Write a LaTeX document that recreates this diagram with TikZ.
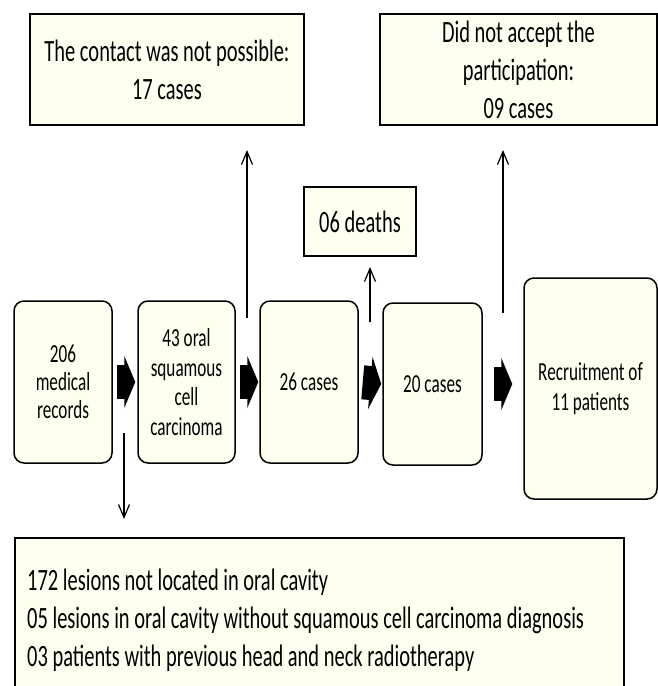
\documentclass[tikz,border=0pt]{standalone}
\usepackage{fontspec}
\setmainfont{Carlito}[FakeStretch=0.66]
\usetikzlibrary{arrows.meta,calc}
\definecolor{cream}{RGB}{255,255,240}
\begin{document}
\begin{tikzpicture}[x=1pt,y=-1pt,
  flowbox/.style={draw=black, line width=1.5pt, fill=cream, rounded corners=10pt, align=center, inner sep=0pt, font=\fontsize{26}{28}\selectfont},
  notebox/.style={draw=black, line width=1.5pt, fill=cream, align=center, inner sep=0pt, font=\fontsize{31}{38}\selectfont},
  fatarrow/.style={line width=34pt, -{Triangle[length=11pt,width=52pt]}},
  thinarrow/.style={line width=1.2pt, -{Straight Barb[length=13pt,width=11pt]}}]
\useasboundingbox (0,0) rectangle (658,686);
\clip (0,0) rectangle (658,686);
% exclusion notes
\node[notebox, minimum width=274pt, minimum height=111pt] (nocontact) at (167,69.5) {The contact was not possible:\\17 cases};
\node[notebox, minimum width=277pt, minimum height=111pt] (refused) at (518.5,69.5) {Did not accept the\\participation:\\09 cases};
\node[notebox, minimum width=112pt, minimum height=69pt] (deaths) at (360,221.5) {06 deaths};
% main flow
\node[flowbox, minimum width=98pt, minimum height=162pt] (b1) at (63,382) {206\\medical\\records};
\node[flowbox, minimum width=97pt, minimum height=162pt, font=\fontsize{26}{29.5}\selectfont] (b2) at (186.5,382) {43 oral\\squamous\\cell\\carcinoma};
\node[flowbox, minimum width=98pt, minimum height=162pt] (b3) at (309,382) {26 cases};
\node[flowbox, minimum width=99pt, minimum height=162pt] (b4) at (432.5,384) {20 cases};
\node[flowbox, minimum width=133pt, minimum height=221pt, font=\fontsize{26}{30}\selectfont] (b5) at (590.5,388.5) {Recruitment of\\11 patients};
% bottom exclusion box
\node[draw=black, line width=1.5pt, fill=cream, minimum width=609pt, minimum height=162pt, inner sep=0pt] (excl) at (319.5,619) {};
\node[anchor=west, align=left, inner sep=0pt, font=\fontsize{31}{38}\selectfont] (excltext) at (27,620) {172 lesions not located in oral cavity\\05 lesions in oral cavity without squamous cell carcinoma diagnosis\\03 patients with previous head and neck radiotherapy};
% fat arrows
\draw[fatarrow, shorten <=4pt, shorten >=2pt] (b1.east) -- (b2.west);
\draw[fatarrow, shorten <=4pt, shorten >=1pt] (b2.east) -- (b3.west);
\draw[fatarrow, shorten <=4pt, shorten >=1pt] (b3.east) -- (b4.west);
\draw[fatarrow, shorten <=11pt, shorten >=11pt] (b4.east) -- (b4.east -| b5.west);
% thin arrows
\coordinate (s1) at (247,318); \coordinate (e1) at (247,150);
\coordinate (s2) at (503,313); \coordinate (e2) at (503,150);
\coordinate (s3) at (370,322); \coordinate (e3) at (370,267);
\coordinate (s4) at (124,433); \coordinate (e4) at (124,519);
\draw[thinarrow] (s1) -- (e1);
\draw[thinarrow] (s2) -- (e2);
\draw[thinarrow] (s3) -- (e3);
\draw[thinarrow] (s4) -- (e4);
\end{tikzpicture}
\end{document}
